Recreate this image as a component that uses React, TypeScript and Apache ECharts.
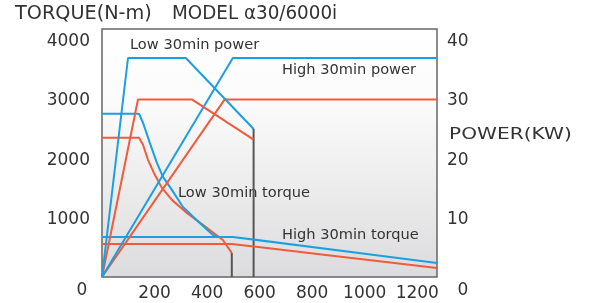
import React, { useEffect, useRef } from "react";
import * as echarts from "echarts";

// speed values (x axis) and torque (N-m) / power (kW) values
const lowPowerBlue = [[0, 0], [99, 37], [319, 37], [577, 25]];
const lowPowerRed = [[0, 0], [137, 30], [342, 30], [577, 23.2]];
const highPowerBlue = [[0, 0], [498, 37], [1275, 37]];
const highPowerRed = [[0, 0], [467, 30], [1275, 30]];
const lowTorqueBlue = [[0, 2758], [141, 2758], [156, 2606], [182, 2267], [209, 1929], [232, 1692], [266, 1472], [308, 1184], [372, 914], [422, 711], [445, 677]];
const lowTorqueRed = [[0, 2352], [141, 2352], [156, 2234], [175, 1980], [201, 1726], [228, 1506], [266, 1303], [323, 1083], [384, 880], [460, 626], [494, 406]];
const highTorqueBlue = [[0, 677], [498, 677], [1275, 237]];
const highTorqueRed = [[0, 558], [494, 558], [1275, 152]];
const limitLow = [[494, 0], [494, 406]];
const limitHigh = [[577, 0], [577, 2504]];

const xTicks = [200, 400, 600, 800, 1000, 1200];
const torqueTicks = [1000, 2000, 3000, 4000];
const powerTicks = [10, 20, 30, 40];

const BLUE = "#1c9fe0";
const RED = "#ef5b3b";
const FONT = '"DejaVu Sans", sans-serif';

export default function App() {
  const ref = useRef<HTMLDivElement>(null);
  useEffect(() => {
    if (!ref.current) return;
    const chart = echarts.init(ref.current, null, { renderer: "svg" });
    const line = (data: number[][], color: string, yAxisIndex: number, width = 2) => ({
      type: "line",
      data,
      yAxisIndex,
      symbol: "none",
      silent: true,
      lineStyle: { color, width },
      itemStyle: { color },
    });
    const label = (values: number[], margin: number) => ({
      customValues: values,
      margin,
      fontSize: 17,
      fontFamily: FONT,
      color: "#333",
      formatter: (v: number) => String(v),
    });
    chart.setOption({
      animation: false,
      grid: {
        left: 102,
        right: 153,
        top: 29,
        bottom: 26,
        show: true,
        borderColor: "#666",
        borderWidth: 1.5,
        backgroundColor: {
          type: "linear",
          x: 0, y: 0, x2: 0, y2: 1,
          colorStops: [
            { offset: 0, color: "#ffffff" },
            { offset: 0.3, color: "#fbfbfb" },
            { offset: 1, color: "#dcdcde" },
          ],
        },
        outerBoundsMode: "none",
      },
      xAxis: {
        type: "value",
        min: 0,
        max: 1275,
        axisLine: { show: false },
        axisTick: { show: false },
        splitLine: { show: false },
        axisLabel: label(xTicks, 6),
      },
      yAxis: [
        {
          type: "value",
          min: 0,
          max: 4190,
          axisLine: { show: false },
          axisTick: { show: false },
          splitLine: { show: false },
          axisLabel: label(torqueTicks, 12),
        },
        {
          type: "value",
          min: 0,
          max: 41.9,
          position: "right",
          axisLine: { show: false },
          axisTick: { show: false },
          splitLine: { show: false },
          axisLabel: label(powerTicks, 10),
        },
      ],
      graphic: [
        { type: "text", x: 15, y: 12, scaleX: 1.03, style: { text: "TORQUE(N-m)", font: '18.7px "DejaVu Sans"', fill: "#333", verticalAlign: "middle" } },
        { type: "text", x: 172, y: 12, scaleX: 0.98, style: { text: "MODEL α30/6000i", font: '18.7px "DejaVu Sans"', fill: "#333", verticalAlign: "middle" } },
        { type: "text", x: 449, y: 133, scaleX: 1.26, style: { text: "POWER(KW)", font: '16px "DejaVu Sans"', fill: "#333", verticalAlign: "middle" } },
        { type: "text", x: 82, y: 289, style: { text: "0", font: '17px "DejaVu Sans"', fill: "#333", align: "center", verticalAlign: "middle" } },
        { type: "text", x: 463, y: 289, style: { text: "0", font: '17px "DejaVu Sans"', fill: "#333", align: "center", verticalAlign: "middle" } },
        { type: "text", x: 130, y: 43, style: { text: "Low 30min power", font: '14.6px "DejaVu Sans"', fill: "#333", verticalAlign: "middle" } },
        { type: "text", x: 282, y: 68, style: { text: "High 30min power", font: '14.6px "DejaVu Sans"', fill: "#333", verticalAlign: "middle" } },
        { type: "text", x: 178, y: 191, style: { text: "Low 30min torque", font: '14.6px "DejaVu Sans"', fill: "#333", verticalAlign: "middle" } },
        { type: "text", x: 282, y: 233, style: { text: "High 30min torque", font: '14.6px "DejaVu Sans"', fill: "#333", verticalAlign: "middle" } },
      ],
      series: [
        line(limitLow, "#555", 0),
        line(limitHigh, "#555", 0),
        line(highTorqueRed, RED, 0),
        line(highTorqueBlue, BLUE, 0),
        line(lowTorqueRed, RED, 0),
        line(lowTorqueBlue, BLUE, 0),
        line(highPowerRed, RED, 1),
        line(highPowerBlue, BLUE, 1),
        line(lowPowerRed, RED, 1),
        line(lowPowerBlue, BLUE, 1),
      ],
    });
    return () => chart.dispose();
  }, []);
  return <div ref={ref} style={{ position: "fixed", left: 0, top: 0, width: 590, height: 303 }} />;
}
